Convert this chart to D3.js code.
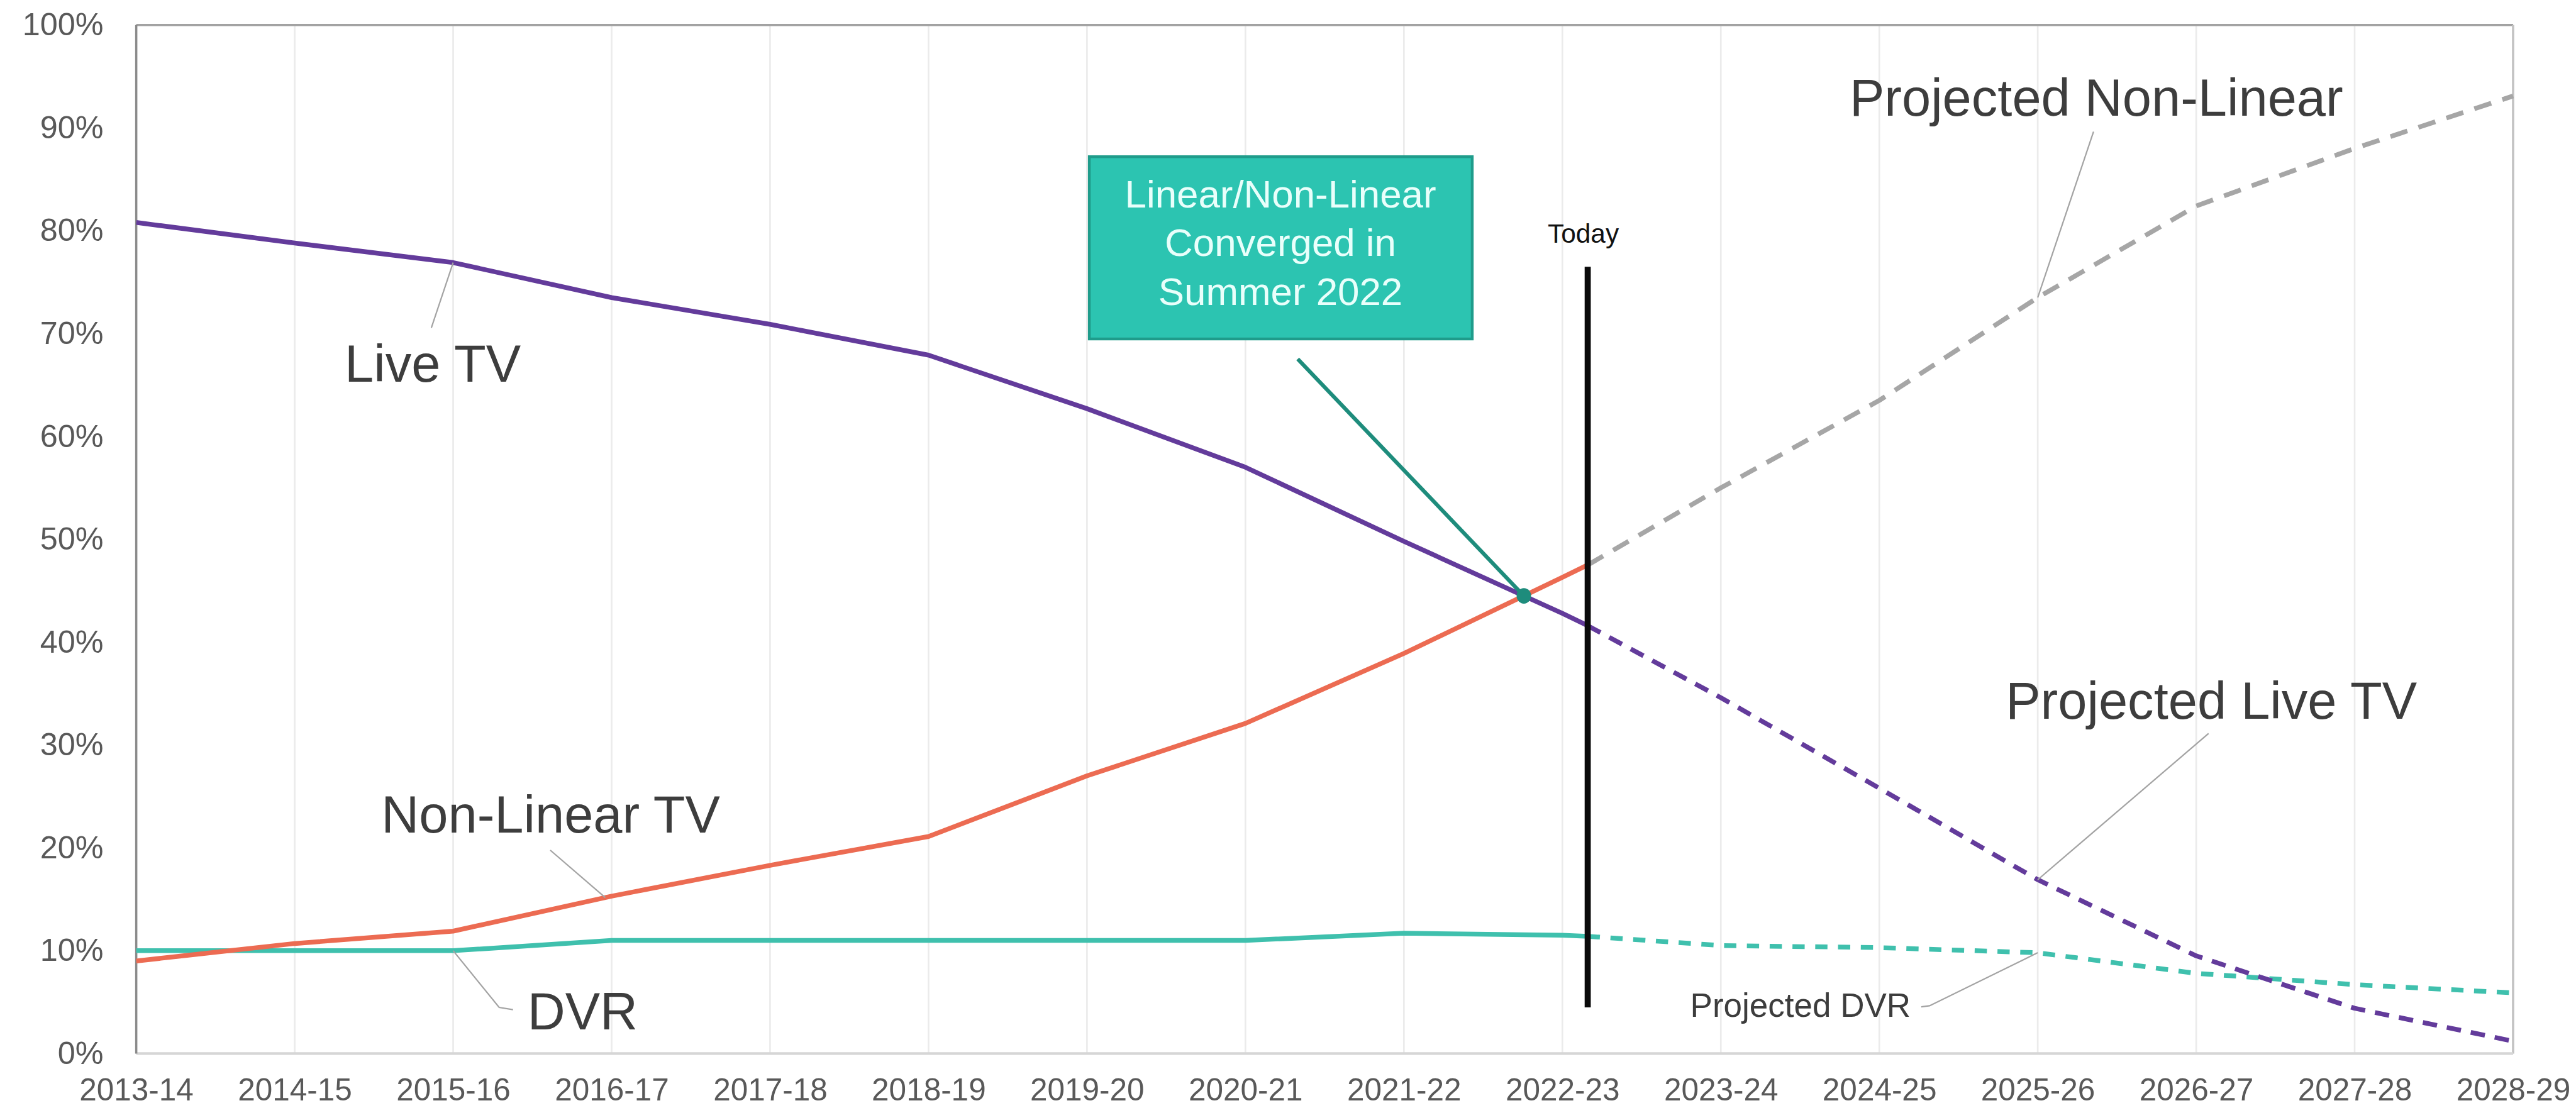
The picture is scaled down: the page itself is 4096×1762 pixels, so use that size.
<!DOCTYPE html>
<html>
<head>
<meta charset="utf-8">
<script src="https://cdn.jsdelivr.net/npm/d3@7"></script>
<style>
  html, body { margin: 0; padding: 0; background: #ffffff; overflow: hidden; }
  svg { display: block; }
</style>
</head>
<body>
<svg id="chart" width="4096" height="1762" viewBox="0 0 4635 1994"></svg>
<script>
// Broadcast seasons on the x axis
const seasons = ["2013-14", "2014-15", "2015-16", "2016-17", "2017-18", "2018-19", "2019-20", "2020-21",
                 "2021-22", "2022-23", "2023-24", "2024-25", "2025-26", "2026-27", "2027-28", "2028-29"];
const yTicks = [0, 10, 20, 30, 40, 50, 60, 70, 80, 90, 100];

// Share of viewing (%), measured seasons 2013-14 .. 2022-23
const liveTV      = [80.8, 78.8, 76.9, 73.5, 70.9, 67.9, 62.7, 57.0, 49.8, 42.8];
const nonLinearTV = [9.0, 10.7, 11.9, 15.3, 18.3, 21.1, 27.0, 32.1, 38.9, 46.3];
const dvr         = [10.0, 10.0, 10.0, 11.0, 11.0, 11.0, 11.0, 11.0, 11.7, 11.5];

// "Today" marker position (seasons after 2013-14) and the share at that moment
const todayPos = 9.16;
const todayLive = 41.6;
const todayNonLinear = 47.5;
const todayDvr = 11.4;

// Projected share (%), seasons 2023-24 .. 2028-29
const projectedLiveTV    = [34.6, 25.8, 16.9, 9.5, 4.4, 1.2];
const projectedNonLinear = [55.0, 63.5, 73.5, 82.4, 88.0, 93.1];
const projectedDvr       = [10.5, 10.3, 9.8, 7.8, 6.7, 5.9];

const FONT = "'Liberation Sans', Arial, Helvetica, sans-serif";
const C = {
  live: "#633b9b",
  nonLinear: "#ec6b52",
  dvr: "#3fc0ad",
  projNonLinear: "#a6a6a6",
  leader: "#a3a3a3",
  label: "#3d3d3d",
  axis: "#595959",
  callFill: "#2cc4b1",
  callStroke: "#1f9c8b",
  callText: "#e9fffb",
  arrow: "#1e8c7c"
};

const svg = d3.select("#chart");

const x = d3.scaleLinear().domain([0, seasons.length - 1]).range([245, 4522]);
const y = d3.scaleLinear().domain([0, 100]).range([1896, 45]);

// vertical gridlines at every season
svg.append("g")
  .selectAll("line")
  .data(d3.range(seasons.length))
  .join("line")
  .attr("x1", d => x(d)).attr("x2", d => x(d))
  .attr("y1", y(100)).attr("y2", y(0))
  .attr("stroke", "#ebebeb")
  .attr("stroke-width", 3);

// plot frame
const frame = svg.append("g");
frame.append("line").attr("x1", x(0)).attr("x2", x(15)).attr("y1", y(100)).attr("y2", y(100))
  .attr("stroke", "#a2a2a2").attr("stroke-width", 4);
frame.append("line").attr("x1", x(15)).attr("x2", x(15)).attr("y1", y(100)).attr("y2", y(0))
  .attr("stroke", "#c2c2c2").attr("stroke-width", 4);
frame.append("line").attr("x1", x(0)).attr("x2", x(15)).attr("y1", y(0)).attr("y2", y(0))
  .attr("stroke", "#d6d6d6").attr("stroke-width", 5);
frame.append("line").attr("x1", x(0)).attr("x2", x(0)).attr("y1", y(100)).attr("y2", y(0))
  .attr("stroke", "#8a8a8a").attr("stroke-width", 4);

// axes
const xAxis = svg.append("g")
  .attr("transform", `translate(0,${y(0)})`)
  .call(d3.axisBottom(x).tickValues(d3.range(seasons.length)).tickFormat(i => seasons[i]).tickSize(0).tickPadding(45));
xAxis.select(".domain").remove();
xAxis.selectAll("text")
  .attr("font-family", FONT).attr("font-size", 56).attr("fill", C.axis);

const yAxis = svg.append("g")
  .attr("transform", `translate(${x(0)},0)`)
  .call(d3.axisLeft(y).tickValues(yTicks).tickFormat(d => d + "%").tickSize(0).tickPadding(59));
yAxis.select(".domain").remove();
yAxis.selectAll("text")
  .attr("font-family", FONT).attr("font-size", 57).attr("fill", C.axis);

// series points
const measured = (arr, todayVal) =>
  arr.map((v, i) => ({ i, v })).concat([{ i: todayPos, v: todayVal }]);
const projected = (arr, todayVal) =>
  [{ i: todayPos, v: todayVal }].concat(arr.map((v, k) => ({ i: liveTV.length + k, v })));

const line = d3.line().x(d => x(d.i)).y(d => y(d.v));

const series = [
  { pts: measured(dvr, todayDvr), color: C.dvr, dash: null },
  { pts: measured(nonLinearTV, todayNonLinear), color: C.nonLinear, dash: null },
  { pts: measured(liveTV, todayLive), color: C.live, dash: null },
  { pts: projected(projectedDvr, todayDvr), color: C.dvr, dash: "22 19" },
  { pts: projected(projectedNonLinear, todayNonLinear), color: C.projNonLinear, dash: "32 21" },
  { pts: projected(projectedLiveTV, todayLive), color: C.live, dash: "26 18" }
];

svg.append("g")
  .selectAll("path")
  .data(series)
  .join("path")
  .attr("d", d => line(d.pts))
  .attr("fill", "none")
  .attr("stroke", d => d.color)
  .attr("stroke-width", 8.5)
  .attr("stroke-linejoin", "round")
  .attr("stroke-dasharray", d => d.dash);

// leader lines from a series point to its label
const leaders = [
  { from: [x(2), y(liveTV[2])], pts: [[776, 590]] },
  { from: [x(2.96), y(nonLinearTV[2] + (nonLinearTV[3] - nonLinearTV[2]) * 0.96)], pts: [[990, 1530]] },
  { from: [x(2), y(dvr[2])], pts: [[898, 1813], [923, 1817]] },
  { from: [x(12), y(projectedNonLinear[2])], pts: [[3767, 237]] },
  { from: [x(12), y(projectedLiveTV[2])], pts: [[3974, 1320]] },
  { from: [x(12), y(projectedDvr[2])], pts: [[3472, 1810], [3457, 1812]] }
];
svg.append("g")
  .selectAll("path")
  .data(leaders)
  .join("path")
  .attr("d", d => d3.line()([d.from].concat(d.pts)))
  .attr("fill", "none")
  .attr("stroke", C.leader)
  .attr("stroke-width", 2.5);

// series labels
const labels = [
  { text: "Live TV", x: 620, y: 687, size: 94, anchor: "start" },
  { text: "Non-Linear TV", x: 686, y: 1498, size: 94, anchor: "start" },
  { text: "DVR", x: 949, y: 1852, size: 94, anchor: "start" },
  { text: "Projected Non-Linear", x: 3328, y: 208, size: 94, anchor: "start" },
  { text: "Projected Live TV", x: 3609, y: 1293, size: 94, anchor: "start" },
  { text: "Projected DVR", x: 3438, y: 1830, size: 60, anchor: "end" }
];
svg.append("g")
  .selectAll("text")
  .data(labels)
  .join("text")
  .attr("x", d => d.x).attr("y", d => d.y)
  .attr("text-anchor", d => d.anchor)
  .attr("font-family", FONT)
  .attr("font-size", d => d.size)
  .attr("fill", C.label)
  .text(d => d.text);

// crossing point of live and non-linear viewing (between 2021-22 and 2022-23)
const d0 = liveTV[8] - nonLinearTV[8];
const d1 = liveTV[9] - nonLinearTV[9];
const t = d0 / (d0 - d1);
const crossI = 8 + t;
const crossV = liveTV[8] + (liveTV[9] - liveTV[8]) * t;
const cx = x(crossI), cy = y(crossV);

// callout arrow and dot
svg.append("line")
  .attr("x1", 2335).attr("y1", 646)
  .attr("x2", cx).attr("y2", cy)
  .attr("stroke", C.arrow).attr("stroke-width", 7);
svg.append("ellipse")
  .attr("cx", cx).attr("cy", cy)
  .attr("rx", 13).attr("ry", 14)
  .attr("fill", C.arrow);

// Today marker
svg.append("line")
  .attr("x1", x(todayPos)).attr("x2", x(todayPos))
  .attr("y1", 480).attr("y2", 1813)
  .attr("stroke", "#0a0a0a").attr("stroke-width", 11);
svg.append("text")
  .attr("x", x(todayPos) - 72).attr("y", 437)
  .attr("font-family", FONT).attr("font-size", 48)
  .attr("fill", "#111")
  .text("Today");

// callout box
const box = svg.append("g");
box.append("rect")
  .attr("x", 1960).attr("y", 282)
  .attr("width", 689).attr("height", 328)
  .attr("fill", C.callFill)
  .attr("stroke", C.callStroke)
  .attr("stroke-width", 5);
box.selectAll("text")
  .data(["Linear/Non-Linear", "Converged in", "Summer 2022"])
  .join("text")
  .attr("x", 2304)
  .attr("y", (d, i) => 373 + i * 88)
  .attr("text-anchor", "middle")
  .attr("font-family", FONT)
  .attr("font-size", 70)
  .attr("fill", C.callText)
  .text(d => d);
</script>
</body>
</html>
